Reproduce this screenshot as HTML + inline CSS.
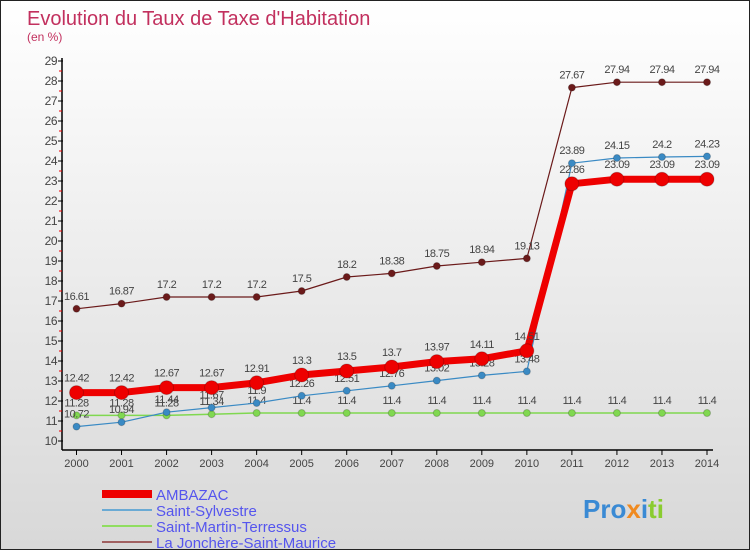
<!DOCTYPE html>
<html><head><meta charset="utf-8"><style>
html,body{margin:0;padding:0}
body{width:750px;height:550px;overflow:hidden;font-family:"Liberation Sans",sans-serif}
#wrap{position:relative;width:748px;height:548px;border:1px solid #222;background:linear-gradient(#ffffff,#d8d8d8)}
svg{position:absolute;left:0;top:0}
</style></head><body>
<div id="wrap">
<svg id="chart" width="750" height="550">
<text x="26" y="24" font-size="20" fill="#c2305e">Evolution du Taux de Taxe d'Habitation</text>
<text x="26" y="40" font-size="12" fill="#c2305e">(en %)</text>
</svg>
</div>
<script>
const years=[2000,2001,2002,2003,2004,2005,2006,2007,2008,2009,2010,2011,2012,2013,2014];
const ambazac=[12.42,12.42,12.67,12.67,12.91,13.3,13.5,13.7,13.97,14.11,14.51,22.86,23.09,23.09,23.09];
const sylvestre=[10.72,10.94,11.44,11.67,11.9,12.26,12.51,12.76,13.02,13.28,13.48,23.89,24.15,24.2,24.23];
const martin=[11.28,11.28,11.28,11.34,11.4,11.4,11.4,11.4,11.4,11.4,11.4,11.4,11.4,11.4,11.4];
const jonchere=[16.61,16.87,17.2,17.2,17.2,17.5,18.2,18.38,18.75,18.94,19.13,27.67,27.94,27.94,27.94];
const yTicks=[10,11,12,13,14,15,16,17,18,19,20,21,22,23,24,25,26,27,28,29];
const seriesNames=["AMBAZAC","Saint-Sylvestre","Saint-Martin-Terressus","La Jonchère-Saint-Maurice"];

const NS="http://www.w3.org/2000/svg";
const svg=document.getElementById('chart');
const X=i=>75.5+i*(706-75.5)/(years.length-1);
const Y=v=>440-(v-10)*20;
function mk(tag,attrs,parent){const e=document.createElementNS(NS,tag);for(const k in attrs)e.setAttribute(k,attrs[k]);(parent||svg).appendChild(e);return e;}

// axes
const ax=mk('g',{});


mk('line',{x1:61,y1:57,x2:61,y2:449,stroke:'#000','stroke-width':1.5},ax);
mk('line',{x1:61,y1:449,x2:712,y2:449,stroke:'#000','stroke-width':1.5},ax);
yTicks.forEach(t=>{
  mk('line',{x1:57,y1:Y(t),x2:62,y2:Y(t),stroke:'#000'},ax);
  if(t<29) mk('line',{x1:58,y1:Y(t+0.5),x2:61,y2:Y(t+0.5),stroke:'#e00'},ax);
  const tx=mk('text',{x:56,y:Y(t)+4,'font-size':12,fill:'#444','text-anchor':'end','letter-spacing':'-0.5'},ax);
  
  
  tx.textContent=t;
});
years.forEach((yr,i)=>{
  mk('line',{x1:X(i),y1:449,x2:X(i),y2:454,stroke:'#000'},ax);
  const tx=mk('text',{x:X(i),y:466,'font-size':11,fill:'#444','text-anchor':'middle'},ax);
  
  
  tx.textContent=yr;
});

function series(data,color,width,r,name,labelDy){
  const g=mk('g',{});
  
  
  mk('polyline',{points:data.map((v,i)=>X(i)+','+Y(v)).join(' '),fill:'none',stroke:color,'stroke-width':width,'stroke-linejoin':'round'},g);
  data.forEach((v,i)=>{
    const c=mk('circle',{cx:X(i),cy:Y(v),r:r,fill:color,stroke:'rgba(0,0,0,0.2)'},g);
    
    
    const t=mk('text',{x:X(i),y:Y(v)+labelDy,'font-size':11,fill:'#444','text-anchor':'middle','letter-spacing':'-0.5'},g);
    
    
    t.textContent=String(v);
  });
}
series(jonchere,'#6b1a1a',1.2,3.5,'series-la-jonchere',-9);
series(martin,'#80d850',1.5,3.5,'series-saint-martin',-9);
series(sylvestre,'#3a8ac4',1.2,3.5,'series-saint-sylvestre',-9);
series(ambazac,'#ee0000',7,7,'series-ambazac',-11);

// legend
const lg=mk('g',{});


const lc=['#ee0000','#6aaad4','#90dd60','#a06060'];
const lw=[8,2,2,2];
seriesNames.forEach((n,i)=>{
  const y=493+i*16;
  mk('line',{x1:101,y1:y,x2:151,y2:y,stroke:lc[i],'stroke-width':lw[i]},lg);
  const t=mk('text',{x:155,y:y+6,'font-size':15,fill:'#5555ee'},lg);
  
  
  t.textContent=n;
});
// logo
const lo=mk('text',{x:582,y:517,'font-size':26,'font-weight':'bold',fill:'#3a8ad4'});


lo.innerHTML='<tspan fill="#3a8ad4">Pro</tspan><tspan fill="#f08a20">x</tspan><tspan fill="#3a8ad4">i</tspan><tspan fill="#8acc30">ti</tspan>';
</script>
</body></html>
